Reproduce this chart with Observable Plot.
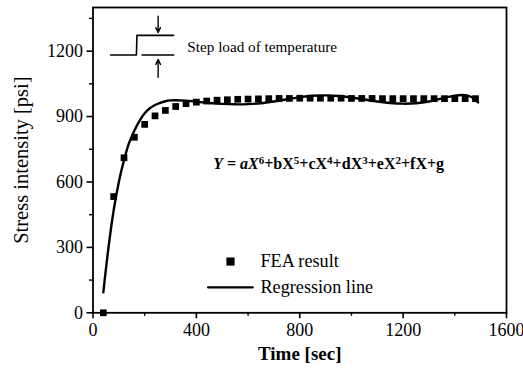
<!DOCTYPE html>
<html>
<head>
<meta charset="utf-8">
<script src="https://cdn.jsdelivr.net/npm/d3@7"></script>
<script src="https://cdn.jsdelivr.net/npm/@observablehq/plot@0.6"></script>
<style>
  html, body { margin: 0; padding: 0; background: #fff; }
  #chart svg { display: block; }
</style>
</head>
<body>
<div id="chart"></div>
<script>
// FEA result (time in sec, stress intensity in psi)
const feaTime = [40, 80, 120, 160, 200, 240, 280, 320, 360, 400, 440, 480, 520, 560, 600, 640, 680, 720, 760, 800, 840, 880, 920, 960, 1000, 1040, 1080, 1120, 1160, 1200, 1240, 1280, 1320, 1360, 1400, 1440, 1480];
const feaStress = [0, 533, 711, 805, 864, 903, 928, 946, 959, 966, 971, 975, 977, 979, 980, 981, 982, 983, 983, 984, 984, 984, 984, 984, 983, 983, 983, 982, 982, 982, 982, 982, 982, 982, 982, 982, 982];

// Regression line
const regTime = [40, 60, 80, 100, 120, 140, 160, 180, 200, 220, 240, 260, 280, 300, 320, 360, 400, 450, 500, 550, 600, 650, 700, 750, 800, 850, 900, 950, 1000, 1050, 1100, 1150, 1200, 1250, 1300, 1350, 1400, 1430, 1460, 1490];
const regStress = [94, 300, 470, 600, 700, 780, 835, 880, 915, 938, 953, 963, 970, 974, 975, 973, 968, 962, 958, 956, 957, 961, 969, 979, 988, 995, 997, 994, 987, 978, 969, 962, 959, 961, 969, 983, 996, 999, 992, 965];

// Axis ticks
const xTicks = [0, 400, 800, 1200, 1600];
const xMinor = [200, 600, 1000, 1400];
const yTicks = [0, 300, 600, 900, 1200];
const yMinor = [150, 450, 750, 1050, 1350];

// Text
const xLabel = "Time [sec]";
const yLabel = "Stress intensity [psi]";
const legendLabels = ["FEA result", "Regression line"];
const stepLabel = "Step load of temperature";
const equation = "Y = aX6+bX5+cX4+dX3+eX2+fX+g";

const fea = feaTime.map((t, i) => ({t, s: feaStress[i]}));
const reg = regTime.map((t, i) => ({t, s: regStress[i]}));

// annotation geometry (data units)
const stepLow = [{t: 68, s: 1182}, {t: 168, s: 1182}, {t: 170, s: 1272}, {t: 312, s: 1272}];
const stepRight = [{t: 190, s: 1182}, {t: 312, s: 1182}];

const font = "'Liberation Serif', 'Times New Roman', serif";
const plain = d => String(d);

const chart = Plot.plot({
  width: 523,
  height: 374,
  marginLeft: 92.5,
  marginRight: 17,
  marginTop: 7,
  marginBottom: 61.7,
  style: {fontFamily: font, fontSize: "17px", background: "#fff", color: "#000", overflow: "visible"},
  x: {domain: [0, 1600], axis: null},
  y: {domain: [0, 1400], axis: null},
  marks: [
    Plot.axisX(xTicks, {tickSize: 6, tickPadding: 4, strokeWidth: 1.6, fontSize: 18, fill: "#000", tickFormat: plain, label: null}),
    Plot.axisX(xMinor, {tickSize: 3.5, strokeWidth: 1.4, tickFormat: () => "", label: null}),
    Plot.axisY(yTicks, {tickSize: 6, tickPadding: 4, strokeWidth: 1.6, fontSize: 18, fill: "#000", tickFormat: plain, label: null}),
    Plot.axisY(yMinor, {tickSize: 3.5, strokeWidth: 1.4, tickFormat: () => "", label: null}),
    Plot.text([xLabel], {frameAnchor: "bottom", dy: 41, fontSize: 19, fontWeight: "bold", fill: "#000", textAnchor: "middle", lineAnchor: "middle"}),
    Plot.text([yLabel], {frameAnchor: "left", dx: -72, rotate: -90, fontSize: 20.5, fill: "#000", textAnchor: "middle", lineAnchor: "middle"}),
    Plot.frame({stroke: "#000", strokeWidth: 1.8}),
    // data
    Plot.dot(fea, {x: "t", y: "s", symbol: "square", r: 3.8, fill: "#000", stroke: "none"}),
    Plot.line(reg, {x: "t", y: "s", curve: "catmull-rom", stroke: "#000", strokeWidth: 2.4}),
    // step-load icon
    Plot.line(stepLow, {x: "t", y: "s", stroke: "#000", strokeWidth: 1.6}),
    Plot.line(stepRight, {x: "t", y: "s", stroke: "#000", strokeWidth: 1.6}),
    Plot.arrow([{x1: 252, y1: 1360, x2: 252, y2: 1285}], {x1: "x1", y1: "y1", x2: "x2", y2: "y2", stroke: "#000", strokeWidth: 1.4, headLength: 6, headAngle: 50}),
    Plot.arrow([{x1: 252, y1: 1080, x2: 252, y2: 1162}], {x1: "x1", y1: "y1", x2: "x2", y2: "y2", stroke: "#000", strokeWidth: 1.4, headLength: 6, headAngle: 50}),
    Plot.text([stepLabel], {x: () => 365, y: () => 1219, textAnchor: "start", fontSize: 15.2, fill: "#000", lineAnchor: "middle"}),
    // equation
    Plot.text([equation], {x: () => 465, y: () => 685, textAnchor: "start", fontSize: 16, fontWeight: "bold", fill: "#000", lineAnchor: "middle", className: "eq"}),
    // legend
    Plot.dot([{t: 532, s: 235}], {x: "t", y: "s", symbol: "square", r: 4.6, fill: "#000", stroke: "none"}),
    Plot.line([{t: 445, s: 117}, {t: 618, s: 117}], {x: "t", y: "s", stroke: "#000", strokeWidth: 2.2}),
    Plot.text([{t: 648, s: 235, label: legendLabels[0]}, {t: 648, s: 117, label: legendLabels[1]}], {x: "t", y: "s", text: "label", textAnchor: "start", fontSize: 18.2, fill: "#000", lineAnchor: "middle"})
  ]
});

// rich formatting of the equation (italic variables, superscript exponents)
const eqText = chart.querySelector("g.eq text");
if (eqText) {
  eqText.textContent = "";
  const parts = [
    ["Y", "i"], [" = ", ""], ["a", "i"], ["X", "i"], ["6", "s"],
    ["+bX", ""], ["5", "s"], ["+cX", ""], ["4", "s"], ["+dX", ""], ["3", "s"],
    ["+eX", ""], ["2", "s"], ["+fX+g", ""]
  ];
  const ns = "http://www.w3.org/2000/svg";
  let wasSup = false;
  for (const [txt, kind] of parts) {
    const ts = document.createElementNS(ns, "tspan");
    ts.textContent = txt;
    if (kind === "i") ts.setAttribute("font-style", "italic");
    if (kind === "s") {
      ts.setAttribute("font-size", "11");
      ts.setAttribute("dy", "-5");
      wasSup = true;
    } else if (wasSup) {
      ts.setAttribute("dy", "5");
      wasSup = false;
    }
    eqText.appendChild(ts);
  }
}

document.getElementById("chart").appendChild(chart);
</script>
</body>
</html>
